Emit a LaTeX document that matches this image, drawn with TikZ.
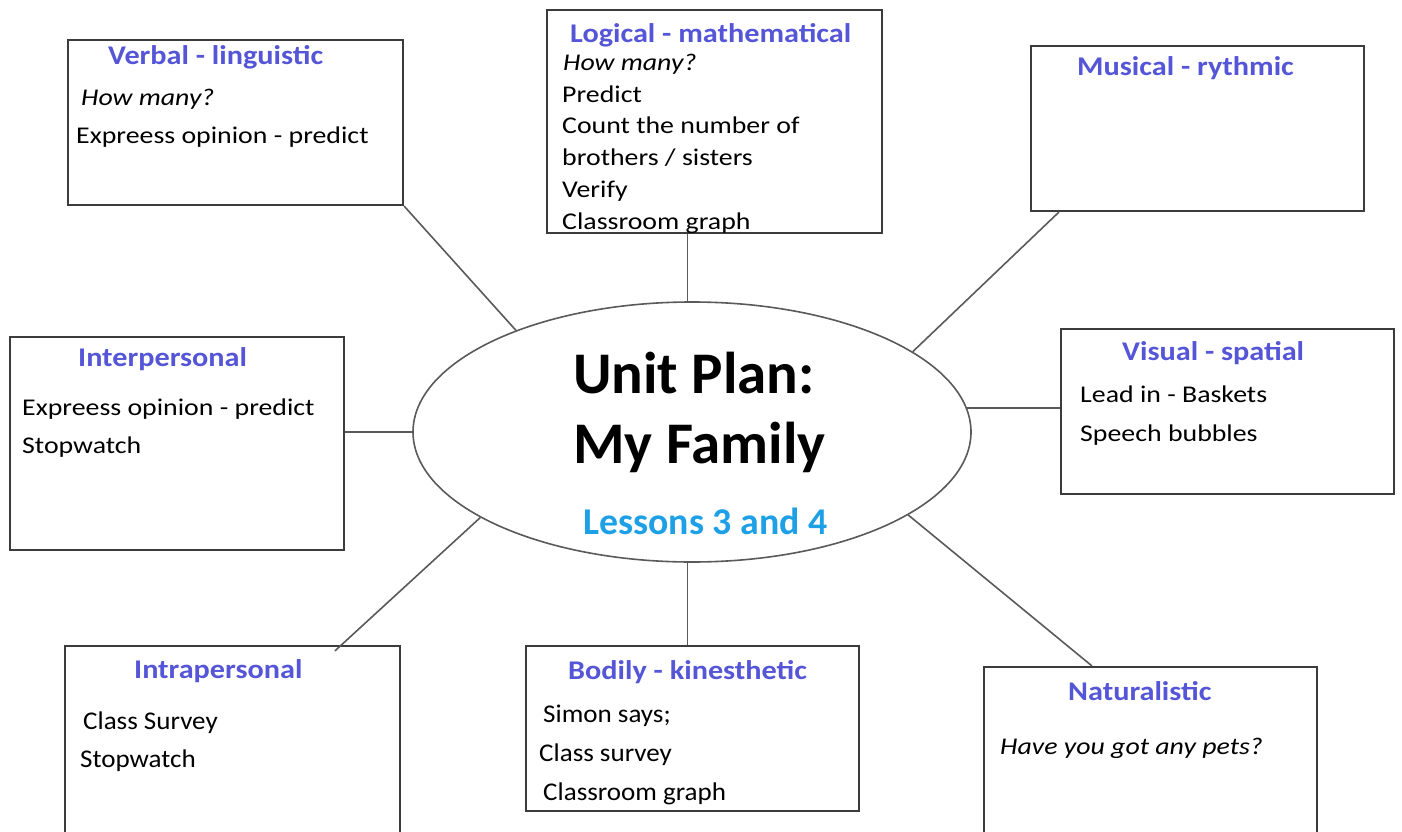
\documentclass[tikz,border=0pt]{standalone}
\usepackage{fontspec}
\setmainfont{Carlito}
\newfontfamily\bodyf{Carlito}[FakeStretch=1.16]
\newfontfamily\condf{Carlito}[FakeStretch=1.06]
\newfontfamily\ttlf{Carlito}[FakeStretch=1.12]
\usetikzlibrary{shapes.geometric,calc}
\definecolor{ttlc}{RGB}{85,85,215}
\definecolor{lsnc}{RGB}{30,160,230}
\definecolor{bord}{RGB}{60,60,60}
\definecolor{connc}{RGB}{90,90,90}
\begin{document}
\begin{tikzpicture}[x=1pt,y=-1pt,
  box/.style={draw=bord,line width=2.2pt,fill=white,inner sep=0pt},
  conn/.style={draw=connc,line width=1.6pt},
  ttl/.style={anchor=base west,inner sep=0pt,text=ttlc,font={\ttlf\bfseries\fontsize{27}{32}\selectfont}},
  txt/.style={anchor=base west,inner sep=0pt,font={\bodyf\fontsize{24}{28}\selectfont}},
  itxt/.style={txt,font={\bodyf\itshape\fontsize{24}{28}\selectfont}},
  ctxt/.style={anchor=base west,inner sep=0pt,font={\condf\fontsize{25.5}{30}\selectfont}}]
\useasboundingbox[fill=white] (0,0) rectangle (1402,832);
% boxes
\node[box,minimum width=335,minimum height=165] (verbal) at (235.5,122.5) {};
\node[box,minimum width=335,minimum height=223] (logical) at (714.5,121.5) {};
\node[box,minimum width=333,minimum height=165] (musical) at (1197.5,128.5) {};
\node[box,minimum width=334,minimum height=213] (inter) at (177,443.5) {};
\node[box,minimum width=333,minimum height=165] (visual) at (1227.5,411.5) {};
\node[box,minimum width=335,minimum height=213] (intra) at (232.5,752.5) {};
\node[box,minimum width=333,minimum height=165] (bodily) at (692.5,728.5) {};
\node[box,minimum width=333,minimum height=180] (natural) at (1150.5,757) {};
% central ellipse
\node[ellipse,draw=connc,line width=1.6pt,fill=white,minimum width=558,minimum height=260,inner sep=0pt] (ell) at (692,432) {};
% connectors
\draw[conn] (verbal.south east) -- (ell.150.5);
\draw[conn] (ell.92) -- (ell.92 |- logical.south);
\draw[conn] (ell.20.4) -- ($(musical.south west)+(29,0)$);
\draw[conn] (ell.west) -- (ell.west -| inter.east);
\draw[conn] (ell.5) -- (ell.5 -| visual.west);
\draw[conn] (ell.202.3) -- ($(intra.north west)+(271,6)$);
\draw[conn] (ell.268) -- (ell.268 |- bodily.north);
\draw[conn] (ell.-21.7) -- ($(natural.north west)+(109,0)$);
% centre texts
\node[anchor=base west,inner sep=0pt,font={\bfseries\fontsize{59}{70}\selectfont}] (t1) at (573,393) {Unit Plan:};
\node[anchor=base west,inner sep=0pt,font={\bfseries\fontsize{59}{70}\selectfont}] (t2) at (573,463) {My Family};
\node[anchor=base west,inner sep=0pt,text=lsnc,font={\bfseries\fontsize{37.8}{44}\selectfont}] (t3) at (583,534) {Lessons 3 and 4};
% verbal
\node[ttl] (vt) at (108,65) {Verbal - linguistic};
\node[itxt] (v1) at (81,106) {How many?};
\node[txt] (v2) at (76,143) {Expreess opinion - predict};
% logical
\node[ttl] (lt) at (570,43) {Logical - mathematical};
\node[itxt] (l1) at (563,71) {How many?};
\node[txt] (l2) at (562,103) {Predict};
\node[txt] (l3) at (562,134) {Count the number of};
\node[txt] (l4) at (562,165) {brothers / sisters};
\node[txt] (l5) at (562,197) {Verify};
\node[txt] (l6) at (562,229) {Classroom graph};
% musical
\node[ttl] (mt) at (1077,76) {Musical - rythmic};
% interpersonal
\node[ttl] (it) at (78,366) {Interpersonal};
\node[txt] (i1) at (22,415) {Expreess opinion - predict};
\node[txt] (i2) at (22,453) {Stopwatch};
% visual
\node[ttl] (st) at (1122,360) {Visual - spatial};
\node[txt] (s1) at (1080,402) {Lead in - Baskets};
\node[txt] (s2) at (1080,441) {Speech bubbles};
% intrapersonal
\node[ttl] (nt) at (134,678) {Intrapersonal};
\node[ctxt] (n1) at (83,729) {Class Survey};
\node[ctxt] (n2) at (80,767) {Stopwatch};
% bodily
\node[ttl] (bt) at (568,679) {Bodily - kinesthetic};
\node[ctxt] (b1) at (543,722) {Simon says;};
\node[ctxt] (b2) at (539,761) {Class survey};
\node[ctxt] (b3) at (543,800) {Classroom graph};
% naturalistic
\node[ttl] (at) at (1068,700) {Naturalistic};
\node[itxt] (a1) at (1000,754) {Have you got any pets?};
\end{tikzpicture}
\end{document}
